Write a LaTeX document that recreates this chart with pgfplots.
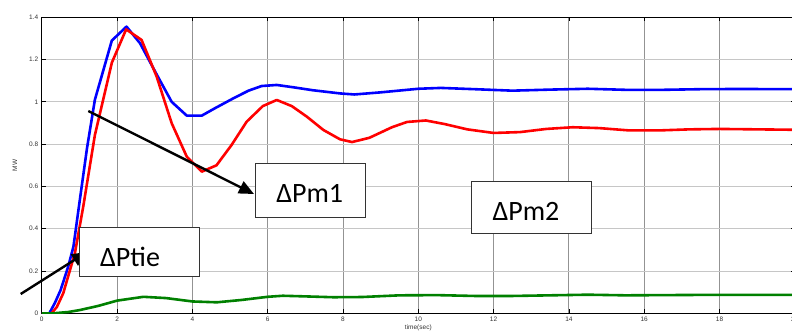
\documentclass[border=0pt]{standalone}
\usepackage{fontspec}
\setmainfont{Liberation Sans}
\newfontfamily\calib{Carlito}
\usepackage{pgfplots}
\pgfplotsset{compat=1.18}
\usetikzlibrary{arrows.meta}
\begin{document}
\begin{tikzpicture}[x=1pt,y=1pt]
\begin{axis}[
  at={(41.8pt,19.7pt)}, anchor=origin,
  scale only axis, width=753pt, height=296pt,
  xmin=0, xmax=20, ymin=0, ymax=1.4,
  xtick={0,2,...,20}, ytick={0,0.2,...,1.4},
  yticklabels={0,0.2,0.4,0.6,0.8,1,1.2,1.4},
  /pgf/number format/assume math mode=true,
  tick label style={font=\fontsize{6.5}{7}\selectfont, text=black!80},
  tick align=inside, major tick length=4pt,
  tick style={black, line width=0.8pt},
  axis line style={black, line width=1.3pt},
  grid=major,
  x grid style={gray!85, line width=0.9pt},
  y grid style={gray!45, line width=0.9pt},
  xlabel={time(sec)}, ylabel={MW},
  label style={font=\fontsize{6.5}{7}\selectfont, text=black!80},
  xlabel style={at={(axis description cs:0.5,-0.0497)}, anchor=center},
  ylabel style={at={(axis description cs:-0.0356,0.5)}, anchor=center},
  every axis plot/.append style={line width=2.6pt, line join=round},
]
\addplot[blue] coordinates {(0,0)(0.2,0)(0.35,0.05)(0.5,0.11)(0.7,0.22)(0.84,0.315)(1.01,0.536)(1.2,0.78)(1.41,1.01)(1.86,1.29)(2.25,1.356)(2.61,1.277)(3.05,1.13)(3.45,1.0)(3.85,0.935)(4.25,0.935)(4.6,0.97)(5.09,1.017)(5.49,1.053)(5.84,1.075)(6.24,1.08)(6.68,1.069)(7.2,1.055)(7.92,1.04)(8.3,1.035)(9,1.045)(10,1.062)(10.6,1.066)(11.5,1.06)(12.5,1.053)(13.5,1.058)(14.5,1.062)(15.5,1.057)(16.5,1.057)(17.5,1.06)(18.5,1.061)(20,1.06)};
\addplot[red] coordinates {(0,0)(0.26,0)(0.4,0.03)(0.57,0.095)(0.88,0.285)(1.10,0.504)(1.41,0.843)(1.86,1.185)(2.24,1.343)(2.65,1.293)(3.05,1.12)(3.45,0.899)(3.85,0.741)(4.25,0.67)(4.64,0.70)(5.04,0.796)(5.44,0.906)(5.87,0.98)(6.24,1.009)(6.64,0.98)(7.04,0.93)(7.48,0.867)(7.92,0.823)(8.24,0.81)(8.7,0.83)(9.3,0.88)(9.7,0.905)(10.2,0.912)(10.7,0.895)(11.3,0.87)(12,0.853)(12.7,0.857)(13.4,0.872)(14.1,0.88)(14.8,0.876)(15.6,0.865)(16.4,0.865)(17.2,0.87)(18,0.872)(19,0.87)(20,0.868)};
\addplot[green!50!black] coordinates {(0,0)(0.3,0)(0.7,0.006)(1,0.015)(1.5,0.035)(2,0.06)(2.7,0.078)(3.3,0.072)(4,0.056)(4.65,0.052)(5.3,0.063)(6,0.078)(6.4,0.083)(7,0.08)(7.74,0.076)(8.5,0.077)(9.5,0.085)(10.5,0.086)(11.5,0.082)(12.5,0.082)(13.5,0.085)(14.5,0.088)(15.5,0.085)(16.5,0.086)(17.5,0.087)(18.5,0.087)(20,0.087)};
\end{axis}
% annotations (pixel coordinates, y up)
\draw[line width=2.4pt, -{Triangle[length=15pt,width=13pt]}] (88.3,222) -- (254,139);
\draw[line width=2.4pt, -{Triangle[length=15pt,width=13pt]}] (20.7,39) -- (87,81);
\draw[black!80, fill=white, line width=0.9pt] (255,115.3) rectangle (365.7,169.7);
\draw[black!80, fill=white, line width=0.9pt] (79,57) rectangle (199,105.3);
\draw[black!80, fill=white, line width=0.9pt] (471,99.7) rectangle (591.7,151.3);
\node[font=\calib\fontsize{28}{30}\selectfont, inner sep=0pt] at (309.7,140) {ΔPm1};
\node[font=\calib\fontsize{28}{30}\selectfont, inner sep=0pt] at (130,76) {ΔPtie};
\node[font=\calib\fontsize{28}{30}\selectfont, inner sep=0pt] at (526,122) {ΔPm2};
\pgfresetboundingbox
\path[use as bounding box] (0,0) rectangle (792,333);
\end{tikzpicture}
\end{document}
